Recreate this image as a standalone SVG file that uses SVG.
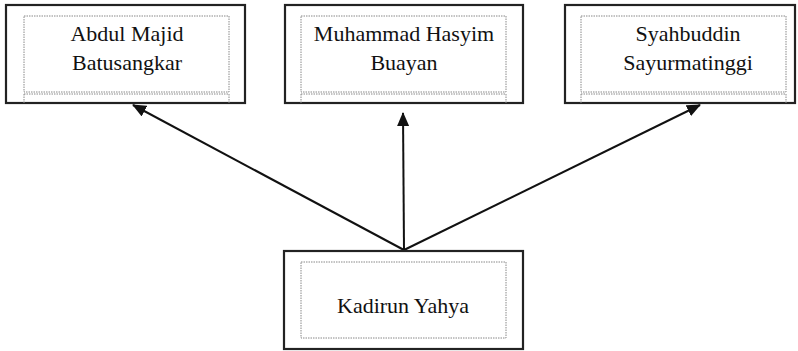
<svg xmlns="http://www.w3.org/2000/svg" width="798" height="351" viewBox="0 0 798 351">
<defs>
<style>
.outer{fill:#fff;stroke:#222;stroke-width:2.2}
.inner{fill:none;stroke:#888;stroke-width:1;stroke-dasharray:1.5 1}
.t{font-family:"Liberation Serif","Times New Roman",serif;font-size:22px;fill:#111;text-anchor:middle}
.conn{stroke:#111;stroke-width:2;fill:none;marker-end:url(#ah)}
</style>
<marker id="ah" viewBox="0 0 14 12" refX="13" refY="6" markerWidth="14" markerHeight="12" markerUnits="userSpaceOnUse" orient="auto">
<path d="M0,0 L14,6 L0,12 z" fill="#111"/>
</marker>
</defs>
<g id="connectors">
<line class="conn" x1="404" y1="250" x2="133" y2="105"/>
<line class="conn" x1="404" y1="250" x2="403" y2="113"/>
<line class="conn" x1="404" y1="250" x2="700" y2="105"/>
</g>
<g id="node-abdul">
<rect class="outer" x="6" y="5" width="239" height="98"/>
<rect class="inner" x="24" y="16" width="205" height="76"/>
<path class="inner" d="M24,94 H229 M24,94 V103 M229,94 V103"/>
<text class="t" x="127" y="41">Abdul Majid</text>
<text class="t" x="127" y="70">Batusangkar</text>
</g>
<g id="node-muhammad">
<rect class="outer" x="285" y="5" width="238" height="98"/>
<rect class="inner" x="301" y="16" width="205" height="76"/>
<path class="inner" d="M301,94 H506 M301,94 V103 M506,94 V103"/>
<text class="t" x="404" y="41">Muhammad Hasyim</text>
<text class="t" x="404" y="70">Buayan</text>
</g>
<g id="node-syahbuddin">
<rect class="outer" x="565" y="5" width="230" height="98"/>
<rect class="inner" x="581" y="16" width="205" height="76"/>
<path class="inner" d="M581,94 H786 M581,94 V103 M786,94 V103"/>
<text class="t" x="688" y="41">Syahbuddin</text>
<text class="t" x="688" y="70">Sayurmatinggi</text>
</g>
<g id="node-kadirun">
<rect class="outer" x="284" y="251" width="239" height="98"/>
<rect class="inner" x="301" y="262" width="205" height="76"/>
<text class="t" x="403" y="313">Kadirun Yahya</text>
</g>
</svg>
